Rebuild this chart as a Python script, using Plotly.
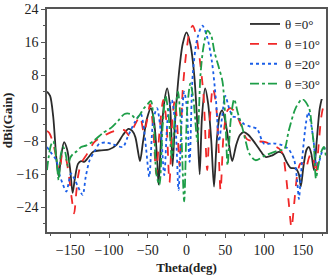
import plotly.graph_objects as go

# ---- data (theta in deg, gain in dBi) ----
theta_0 = [-180, -176, -172, -168, -165, -162, -158, -154, -150, -147, -144, -140, -136, -132, -127, -120,
           -110, -100, -90, -82, -75, -70, -66, -63, -60, -56, -51, -46, -42, -38, -36, -33, -29, -25, -21,
           -18, -15, -10, -5, 0, 5, 10, 14, 17, 20, 24, 28, 32, 35.5, 39, 43, 46, 50, 55, 59, 64, 69, 74, 80,
           89, 96, 102, 110, 119, 124, 128, 134, 141, 145, 147.5, 151, 155, 158, 161, 164.5, 168, 172, 176, 180]
gain_0 = [4, 3, -2, -12, -16.5, -12, -8.2, -10, -15, -20.5, -17, -13.5, -12.8, -13, -12, -10.5,
          -10.2, -10, -8.8, -6.5, -5, -5.5, -7, -10, -12.8, -8, -2.5, 0, -3, -12, -18.5, -8, 1, 4.8, 0,
          -14, -4, 8, 15.5, 18.4, 15.5, 8, -4, -16, -2, 4.8, 1, -8, -19, -8, -1.5, -0.5, -3, -9, -12.8, -9, -6.5, -5.8, -6.5,
          -8.6, -10.5, -11.8, -11.5, -10.6, -11, -12.6, -14.4, -14.6, -16, -19, -14, -10, -9.4, -11, -15, -8, 0, 3, 4]

theta_10 = [-180, -177, -172.5, -168, -164, -160, -156, -152, -148, -145, -142, -140, -136, -128, -119, -110,
            -102, -91, -80, -74, -67, -60, -55, -51, -47, -43, -39, -35, -30, -26, -22, -18, -15, -12, -9,
            -5, 0, 4, 8, 12, 17, 22, 26.7, 30, 34, 38, 41, 44, 48, 53, 57, 63, 70, 78, 90, 102, 119.5,
            124, 128, 132, 135.5, 139, 143, 147, 151, 154, 158, 161, 164.5, 167, 170, 174, 177, 180]
gain_10 = [-5.5, -6, -8.2, -12, -15.8, -11, -12, -16, -22, -25.5, -20, -16.6, -13.4, -11, -8.2, -7,
           -6.2, -5.4, -5.3, -6.6, -4.2, -2, -6, -3, 1, -5, -16, -6, 2, -3, -18, -2, 2, -4, -14,
           4, 14, 18.5, 20, 18, 12, 3, -15, -3, 5, 1, -8, -20, -6, -0.5, 0, -1, -4, -7.5, -8, -8.2, -9.8,
           -11, -15.8, -23, -29, -23, -16, -13.4, -13.5, -14.6, -12, -11, -13, -16, -10, -2, 0.5, 1]

theta_20 = [-180, -174, -168, -164, -160, -155, -152, -149, -145, -140, -134, -130, -125, -119, -112.5, -105,
            -97, -91, -82, -76, -67, -59, -55, -52, -48, -43, -38, -33, -28.7, -24, -19, -14, -10.3, -6,
            -3, 0, 4, 8, 14, 20.5, 27, 33, 38, 42, 46, 50, 55, 60, 65, 74, 83, 91, 100, 112, 124, 132,
            139, 143, 145, 147, 149.5, 154, 157, 160, 164, 168, 171, 176, 180]
gain_20 = [-9.4, -11, -12.6, -16, -18.2, -20.2, -18, -15.8, -17, -19, -21, -16.6, -12.6, -10.6, -8.6, -8.3,
           -8.6, -9, -9.4, -7, -3.5, -1.4, -5, -10, -16.6, -3, 0, -6, -16.2, -2, 2, -5, -19.8, -2,
           4, 1, -13, 8, 17, 20, 17, 11, 2, -8, -2, 3, 0, -2, -2.2, -3.8, -4.5, -5, -8.6, -8.5, -9, -10,
           -12.6, -18, -22, -18, -11.8, -3.8, -1, -3, -8, -14, -13, -10, -9.4]

theta_30 = [-180, -178, -175, -172, -168, -165, -162, -159, -156, -153, -150, -146, -142, -136, -129, -119,
            -108, -97, -88, -80, -72, -65, -60, -55, -50, -46, -42, -39, -35, -31, -27, -23, -19, -15, -11,
            -7, -3, 1, 5, 9, 14, 18, 22, 27, 32, 36, 42, 46.4, 50, 53, 57, 61.5, 66, 72, 77, 81, 89, 102,
            119.5, 126, 132, 141, 149.5, 158, 162, 164.5, 167, 170, 174, 177.5, 180]
gain_30 = [-15, -12, -9, -8, -12, -17.4, -11, -9.4, -11, -14, -12, -11, -10.5, -9.4, -9, -7.8,
           -6, -4.7, -3, -1.4, -1.4, -2.6, -1.5, 0, 1, 1.8, -4, -15.8, -18.6, -5, 3, -2, -12, -2, 4,
           -5, -22.6, 0, 6, 2, -8, 8, 15, 18.8, 17.5, 13.7, 9.7, 6.5, -2, -13.8, -3, 2.2, -1, -4.7, -8.5, -11, -12.6, -11.4,
           -10.2, -10, -5.4, 0.1, 2.2, 0.1, -5, -9.4, -17, -14, -10.5, -9.4, -12]

series = [
    ("θ =0°", theta_0, gain_0, "#2b2b2b", "solid"),
    ("θ =10°", theta_10, gain_10, "#f02828", "dash"),
    ("θ =20°", theta_20, gain_20, "#1a5ee8", "dot"),
    ("θ =30°", theta_30, gain_30, "#1e9e48", "dashdot"),
]

x_ticks = [-150, -100, -50, 0, 50, 100, 150]
y_ticks = [24, 16, 8, 0, -8, -16, -24]

fig = go.Figure()
for name, xs, ys, col, dash in series:
    fig.add_trace(go.Scatter(x=xs, y=ys, mode="lines", name=name,
                             line=dict(color=col, dash=dash, width=1.8, shape="spline", smoothing=0.8)))

font_family = "Liberation Serif, Times New Roman, serif"
fig.update_layout(
    width=330, height=275,
    margin=dict(l=47, r=2, t=7, b=43),
    paper_bgcolor="white", plot_bgcolor="white",
    font=dict(family=font_family, size=14, color="#222"),
    showlegend=True,
    legend=dict(x=1, y=1, xanchor="right", yanchor="top", bgcolor="rgba(255,255,255,1)",
                borderwidth=0, font=dict(size=13, family=font_family), tracegroupgap=0,
                itemwidth=30),
)
fig.update_xaxes(range=[-180, 180], tickvals=x_ticks, ticktext=[str(v).replace("-", "−") for v in x_ticks],
                 showgrid=False, zeroline=False, showline=True, linecolor="#555", linewidth=1.5, mirror=True,
                 ticks="outside", ticklen=4, tickcolor="#555",
                 minor=dict(dtick=25, tick0=-175, ticks="outside", ticklen=2, tickcolor="#555"),
                 title=dict(text="<b>Theta(deg)</b>", font=dict(size=13, family=font_family), standoff=6))
fig.update_yaxes(range=[-30, 24.05], tickvals=y_ticks, ticktext=[str(v).replace("-", "−") for v in y_ticks],
                 showgrid=False, zeroline=False, showline=True, linecolor="#555", linewidth=1.5, mirror=True,
                 ticks="outside", ticklen=4, tickcolor="#555",
                 minor=dict(dtick=4, tick0=0, ticks="outside", ticklen=2, tickcolor="#555"),
                 title=dict(text="<b>dBi(Gain)</b>", font=dict(size=13, family=font_family), standoff=4))

fig.write_html("out.html", config={"displayModeBar": False},
               post_script="document.body.style.margin='0';document.body.style.overflow='hidden';")
